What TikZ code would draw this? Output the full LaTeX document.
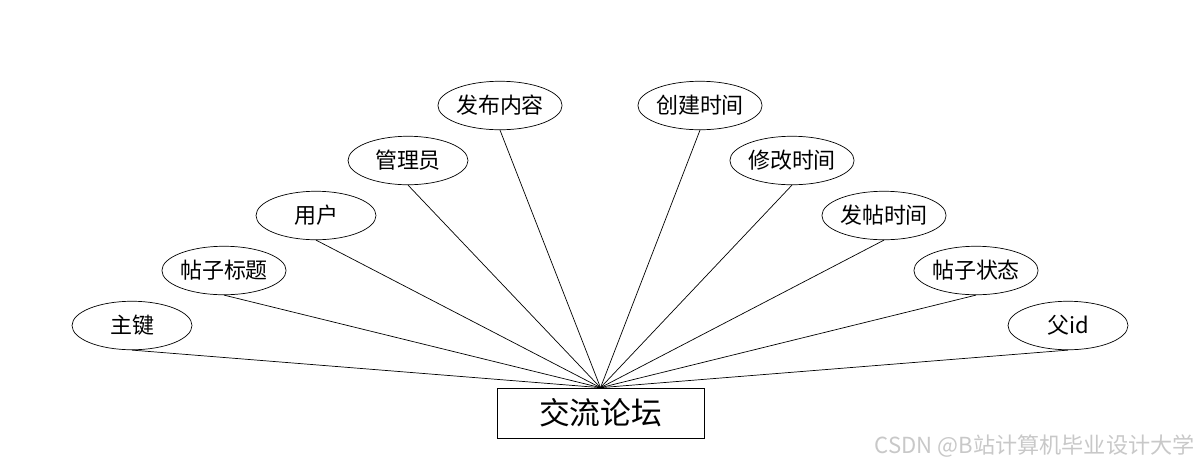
\documentclass[tikz,border=0pt]{standalone}
\usepackage{fontspec}
\setmainfont{Noto Sans CJK SC}
\usetikzlibrary{shapes.geometric}
\definecolor{mark}{RGB}{200,200,200}

\begin{document}
\begin{tikzpicture}[x=0.02cm,y=-0.02cm,
  attr/.style={ellipse,draw,minimum width=2.4cm,minimum height=0.97cm,inner sep=0pt,font=\fontsize{12.5pt}{14pt}\selectfont},
  entity/.style={rectangle,draw,minimum width=4.14cm,minimum height=1cm,inner sep=0pt,font=\fontsize{17.5pt}{20pt}\selectfont}]
  \useasboundingbox (0,0) rectangle (1200,468);
  \node[entity] (forum) at (600.5,413) {交流论坛};
  \node[attr] (pk)    at (132,325.5)  {主键};
  \node[attr] (title) at (224,270.5)  {帖子标题};
  \node[attr] (user)  at (316,215.5)  {用户};
  \node[attr] (admin) at (408,160.5)  {管理员};
  \node[attr] (body)  at (500,105.5)  {发布内容};
  \node[attr] (ctime) at (700,105.5)  {创建时间};
  \node[attr] (mtime) at (792,160.5)  {修改时间};
  \node[attr] (ptime) at (884,215.5)  {发帖时间};
  \node[attr] (state) at (976,270.5)  {帖子状态};
  \node[attr] (pid)   at (1068,325.5) {父id};
  \foreach \a in {pk,title,user,admin,body,ctime,mtime,ptime,state,pid}
    \draw (\a.south) -- (forum.north);
  % watermark
  \node[text=mark,anchor=east,inner sep=0pt,font=\fontsize{12.6pt}{14pt}\selectfont] (wm) at (1195,446) {CSDN @B站计算机毕业设计大学};
\end{tikzpicture}
\end{document}
